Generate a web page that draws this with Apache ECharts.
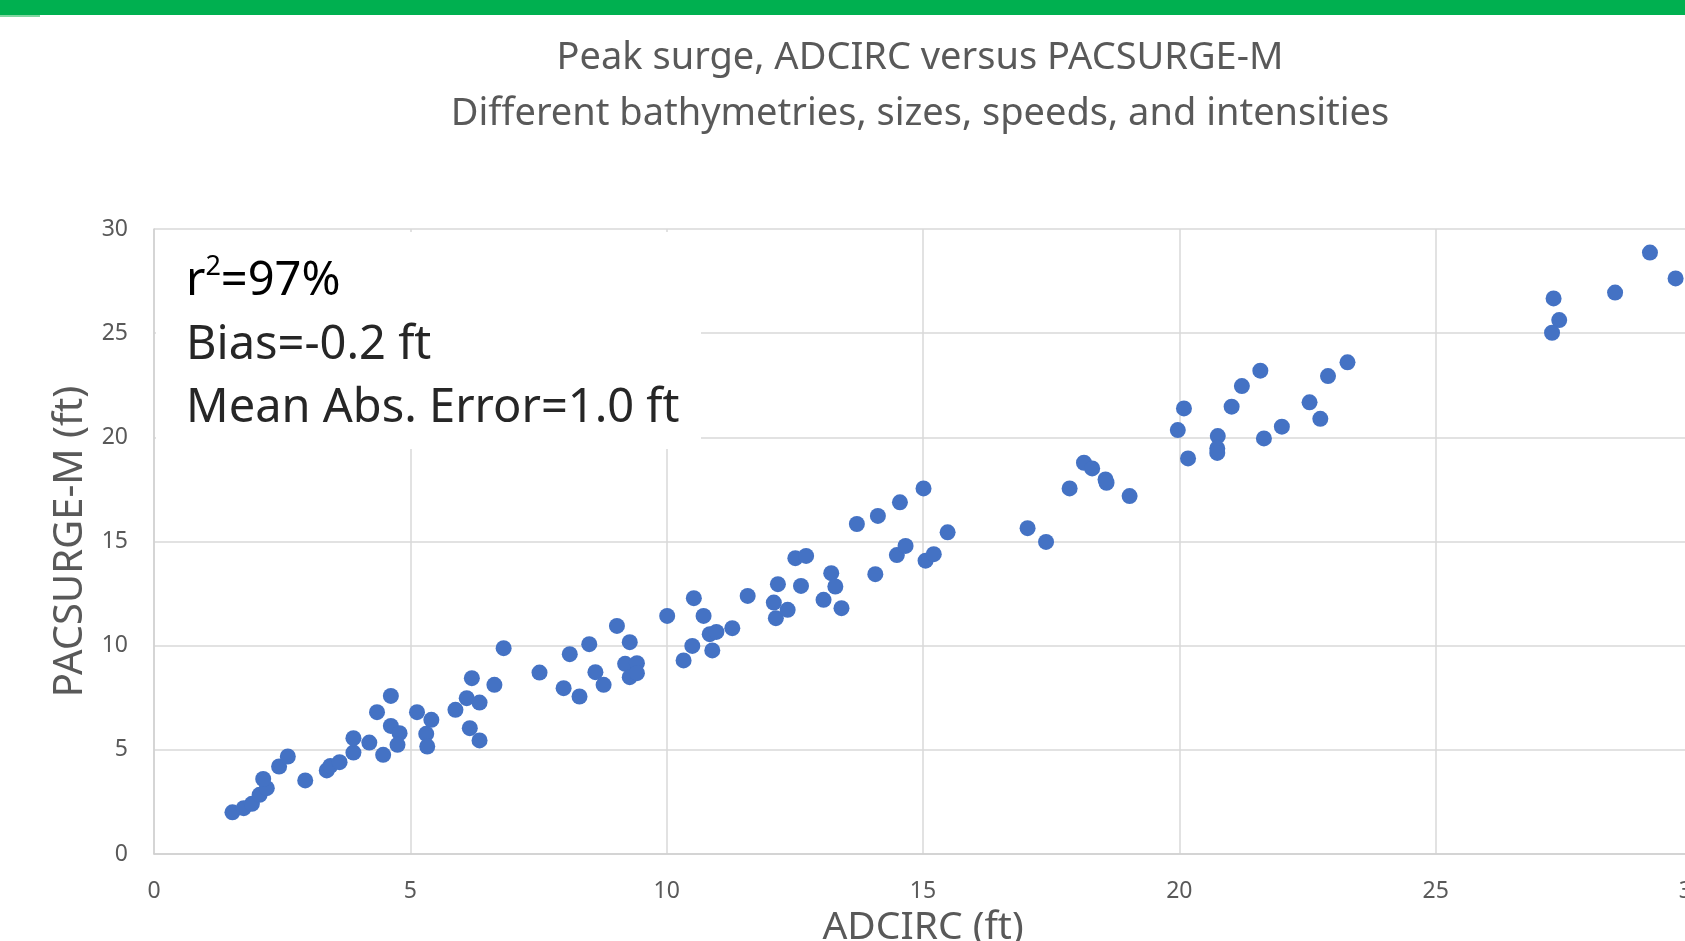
<!DOCTYPE html>
<html>
<head>
<meta charset="utf-8">
<script src="https://cdn.jsdelivr.net/npm/echarts@6/dist/echarts.min.js"></script>
<style>
html,body{margin:0;padding:0;background:#fff;}
#chart{width:1685px;height:941px;}
</style>
</head>
<body>
<div id="chart"></div>
<script>
// ADCIRC peak surge (ft)
const adcirc = [1.53,1.75,1.91,2.06,2.20,2.13,2.44,2.61,2.95,3.37,3.44,3.62,3.89,3.89,4.20,4.35,4.47,4.62,4.62,4.79,4.75,5.13,5.31,5.33,5.41,5.88,6.10,6.20,6.16,6.35,6.35,6.64,6.82,7.52,7.99,8.11,8.30,8.49,8.61,8.77,9.03,9.28,9.19,9.42,9.28,9.42,10.01,10.33,10.50,10.53,10.72,10.89,10.84,10.97,11.28,11.58,12.09,12.13,12.17,12.36,12.51,12.72,12.62,13.06,13.21,13.29,13.41,13.71,14.07,14.12,14.55,14.49,14.66,15.01,15.05,15.21,15.48,17.04,17.40,17.86,18.14,18.30,18.56,18.58,19.03,19.97,20.09,20.17,20.75,20.74,20.74,21.02,21.22,21.58,21.65,22.00,22.54,22.75,22.90,23.28,27.30,27.41,27.27,28.50,29.18,29.68];
// PACSURGE-M peak surge (ft)
const pacsurge = [2.00,2.20,2.41,2.84,3.16,3.60,4.20,4.68,3.53,4.01,4.23,4.41,4.87,5.56,5.35,6.81,4.76,7.59,6.15,5.80,5.24,6.81,5.77,5.16,6.44,6.92,7.48,8.44,6.04,7.27,5.45,8.12,9.88,8.71,7.96,9.59,7.56,10.07,8.73,8.12,10.95,10.17,9.13,9.16,8.49,8.68,11.43,9.29,9.99,12.28,11.43,9.77,10.55,10.66,10.84,12.39,12.07,11.32,12.95,11.72,14.20,14.31,12.87,12.20,13.48,12.84,11.80,15.84,13.43,16.23,16.88,14.35,14.79,17.55,14.08,14.39,15.44,15.64,14.98,17.55,18.78,18.51,17.98,17.82,17.18,20.35,21.39,18.99,20.06,19.47,19.25,21.47,22.46,23.20,19.95,20.51,21.68,20.89,22.94,23.60,26.67,25.63,25.02,26.95,28.87,27.63];

const titleLines = ['Peak surge, ADCIRC versus PACSURGE-M', 'Different bathymetries, sizes, speeds, and intensities'];
const statsLines = ['Bias=-0.2 ft', 'Mean Abs. Error=1.0 ft'];
const xAxisName = 'ADCIRC (ft)';
const yAxisName = 'PACSURGE-M (ft)';

const points = adcirc.map((x, i) => [x, pacsurge[i]]);
const FONT = '"Noto Sans", "Open Sans", sans-serif';
const GRAY = '#595959';

const chart = echarts.init(document.getElementById('chart'), null, {renderer: 'canvas'});
chart.setOption({
  backgroundColor: '#ffffff',
  animation: false,
  grid: {left: 154, top: 229, width: 1538, height: 625, containLabel: false, outerBoundsMode: 'none'},
  xAxis: {
    type: 'value', min: 0, max: 30, interval: 5,
    name: xAxisName, nameLocation: 'middle', nameGap: 51,
    nameTextStyle: {fontFamily: FONT, fontSize: 39, color: GRAY},
    axisLine: {show: true, lineStyle: {color: '#d0d0d0', width: 1.5}},
    axisTick: {show: false},
    axisLabel: {fontFamily: FONT, fontSize: 23, color: GRAY, margin: 26},
    splitLine: {show: true, lineStyle: {color: '#d9d9d9', width: 1.5}}
  },
  yAxis: {
    type: 'value', min: 0, max: 30, interval: 5,
    name: yAxisName, nameLocation: 'middle', nameGap: 62, nameRotate: 90,
    nameTextStyle: {fontFamily: FONT, fontSize: 40, color: GRAY},
    axisLine: {show: true, lineStyle: {color: '#d0d0d0', width: 1.5}},
    axisTick: {show: false},
    axisLabel: {fontFamily: FONT, fontSize: 23, color: GRAY, margin: 26},
    splitLine: {show: true, lineStyle: {color: '#d9d9d9', width: 1.5}}
  },
  series: [{
    type: 'scatter',
    data: points,
    symbol: 'circle',
    symbolSize: 16,
    itemStyle: {color: '#4472C4', opacity: 1},
    z: 3
  }],
  graphic: [
    {type: 'rect', left: 0, top: 0, shape: {width: 1685, height: 15}, style: {fill: '#00B050'}, z: 100},
    {type: 'rect', left: 0, top: 15, shape: {width: 40, height: 2}, style: {fill: '#7fd7a0'}, z: 100},
    {type: 'text', x: 920, y: 58, z: 100, style: {text: titleLines[0], fill: GRAY, font: '38px ' + FONT, textAlign: 'center', textVerticalAlign: 'middle'}},
    {type: 'text', x: 920, y: 114, z: 100, style: {text: titleLines[1], fill: GRAY, font: '38px ' + FONT, textAlign: 'center', textVerticalAlign: 'middle'}},
    {type: 'rect', x: 156, y: 232, z: 100, shape: {width: 545, height: 217}, style: {fill: '#ffffff'}},
    {type: 'text', x: 186, y: 282, z: 101, style: {
      text: '{a|r}{s|2}{a|=97%}', textVerticalAlign: 'middle',
      rich: {
        a: {fontFamily: FONT, fontSize: 47, color: '#262626', lineHeight: 56},
        s: {fontFamily: FONT, fontSize: 27, color: '#262626', verticalAlign: 'top', lineHeight: 30}
      }
    }},
    {type: 'text', x: 186, y: 346, z: 101, style: {text: statsLines[0], fill: '#262626', font: '47px ' + FONT, textVerticalAlign: 'middle'}},
    {type: 'text', x: 186, y: 409, z: 101, style: {text: statsLines[1], fill: '#262626', font: '47px ' + FONT, textVerticalAlign: 'middle'}}
  ]
});
</script>
</body>
</html>
